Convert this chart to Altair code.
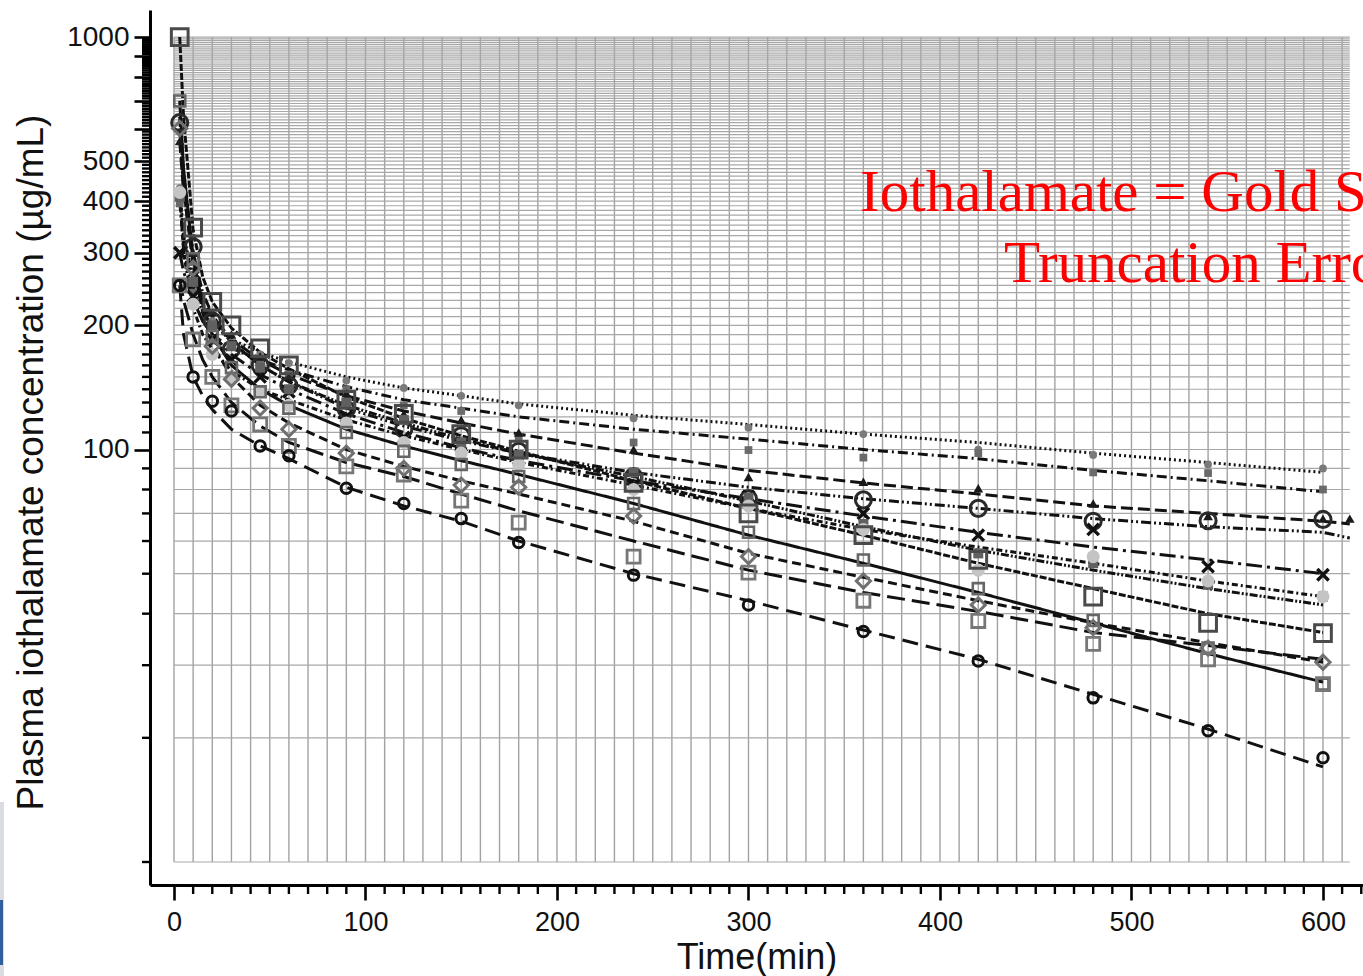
import altair as alt
import pandas as pd

# ---------------- data ----------------
LINE_T = [3, 5, 10, 15, 20, 30, 45, 60, 90, 120, 150, 180, 240, 300, 360, 420, 480, 540, 600]
OBS_T = [3, 10, 20, 30, 45, 60, 90, 120, 150, 180, 240, 300, 360, 420, 480, 540, 600]

fit_A = [430, 330, 250, 215, 200, 185, 172, 163, 150, 141, 135, 129, 121, 115, 109, 104, 98, 93, 88]
fit_B = [400, 310, 235, 205, 190, 176, 165, 156, 142, 132, 126, 120, 112, 106, 100, 95, 89, 84, 79]
fit_C = [560, 420, 290, 235, 210, 185, 165, 152, 135, 124, 116, 109, 98, 89, 83, 78, 73, 70, 67]
fit_D = [640, 460, 300, 240, 212, 182, 160, 146, 126, 114, 105, 98, 88, 81, 76, 72, 68, 65, 63]
fit_E = [300, 270, 230, 205, 190, 170, 152, 140, 122, 110, 101, 94, 84, 76, 69, 63, 58, 54, 50]
fit_F = [410, 330, 260, 225, 205, 182, 160, 146, 128, 116, 106, 98, 86, 75, 65, 57, 51, 46, 42]
fit_L = [420, 300, 220, 190, 175, 155, 140, 132, 118, 108, 100, 93, 82, 72, 64, 58, 53, 48, 44]
fit_G = [1000, 640, 340, 262, 228, 197, 172, 157, 134, 119, 108, 99, 84, 72, 62, 53, 46, 40, 36]
fit_I = [700, 480, 290, 225, 190, 160, 140, 128, 112, 102, 94, 87, 74, 62, 53, 45, 38, 32, 27.3]
fit_H = [600, 430, 280, 215, 180, 150, 128, 116, 100, 91, 84, 78, 67, 56, 49, 43, 38, 34, 30.5]
fit_J = [260, 230, 190, 165, 150, 130, 114, 104, 93, 86, 78, 71, 60, 51, 45, 40.5, 36, 33.5, 31]
fit_K = [250, 190, 150, 135, 125, 112, 102, 95, 81, 73, 67, 60, 50, 43, 36.5, 31, 25.5, 21, 17]

obs_A = [430, 255, 205, 182, 170, 162, 147, 141, 135, 128, 119, 113, 109, 100, 97, 92, 90]
obs_B = [395, 240, 185, 178, 162, 152, 140, 128, 124, 107, 104, 99.7, 95.6, 98, 88, 87.7, 80]
obs_C = [560, 300, 215, 190, 168, 150, 137, 122, 118, 110, 100, 85.8, 83.5, 80.6, 74, 69, 68]
obs_D = [620, 310, 205, 175, 160, 143, 125, 112, 108, 99, 86, 76, 75.5, 72, 67, 67.2, 67.7]
obs_E = [300, 235, 185, 165, 150, 138, 120, 107, 102, 95, 82, 77, 70, 62, 64, 52, 49.7]
obs_F = [410, 255, 200, 178, 158, 140, 130, 118, 104, 97, 88, 76.5, 66, 56, 53, 47, 44]
obs_L = [420, 225, 170, 150, 138, 128, 116, 104, 98, 92, 80, 73, 64, 51, 55, 48, 44]
obs_G = [1000, 345, 228, 200, 176, 160, 132, 122, 109, 100, 83, 70, 62, 54, 44, 38, 35.9]
obs_I = [700, 290, 188, 158, 138, 126, 110, 99, 92, 86, 74, 63, 54, 46, 38.5, 33, 27]
obs_H = [600, 275, 178, 148, 126, 112, 98, 90, 82, 81, 69, 55, 48, 42, 37, 33, 30.5]
obs_J = [250, 185, 150, 128, 115, 102, 91, 87, 75.2, 66.5, 55, 50.3, 43, 38.4, 33.8, 31, 27]
obs_K = [250, 150, 131, 124, 102, 96.6, 80.6, 74, 68, 59.5, 49.6, 42, 36.2, 30.7, 25, 20.8, 17.9]

# two fitted curves run a little past 600 min, one extra late sample
EXT_T = 614
ext_C = 66
ext_D = 61
late_obs_C = 68

Y_MAJOR = [100, 200, 300, 400, 500, 600, 700, 800, 900, 1000]
Y_LABELLED = [100, 200, 300, 400, 500, 1000]
X_MAJOR = [0, 100, 200, 300, 400, 500, 600]

NOTE = "Iothalamate = Gold Standard\nTruncation Error"
NOTE_T = 536.8
NOTE_V = 378.6

# ---------------- scales / axes ----------------
xs = alt.Scale(domain=[-12.53, 620.9], nice=False, zero=False)
ys = alt.Scale(type="log", domain=[8.795, 1163], nice=False)

FONT = "Liberation Sans"
x_axis = alt.Axis(values=X_MAJOR, format="d", title="Time(min)", grid=False,
                  domainColor="black", domainWidth=3, tickColor="black", tickWidth=2.6,
                  tickSize=15, labelFont=FONT, labelFontSize=27, labelColor="#111111",
                  labelPadding=9, titleFont=FONT, titleFontSize=36, titleFontWeight="normal",
                  titleColor="#111111", titlePadding=5)
lab_expr = "indexof([" + ",".join(str(v) for v in Y_LABELLED) + "], datum.value) >= 0 ? format(datum.value, 'd') : ''"
y_axis = alt.Axis(values=Y_MAJOR, labelExpr=lab_expr, title="Plasma iothalamate concentration (µg/mL)",
                  grid=False, domainColor="black", domainWidth=3, tickColor="black", tickWidth=2.6,
                  tickSize=16, labelFont=FONT, labelFontSize=28, labelColor="#111111", labelPadding=5,
                  titleFont=FONT, titleFontSize=37, titleFontWeight="normal", titleColor="#111111",
                  titleAngle=-90, titleX=-119, titleY=452, titleAlign="center", titleBaseline="middle")


def X(f="t"):
    return alt.X(f"{f}:Q", scale=xs, axis=x_axis)


def Y(f="v"):
    return alt.Y(f"{f}:Q", scale=ys, axis=y_axis)


layers = []

# ---------------- grid (inset rectangle) ----------------
vgrid = pd.DataFrame({"t": list(range(0, 611, 10))})
vgrid["v"] = 10
vgrid["v2"] = 1000
hvals = list(range(10, 100, 10)) + list(range(100, 1001, 10))
hgrid = pd.DataFrame({"v": hvals})
hgrid["t"] = 0
hgrid["t2"] = 614
layers.append(alt.Chart(vgrid).mark_rule(color="#a2a2a2", strokeWidth=1.4).encode(x=X(), y=Y(), y2="v2:Q"))
layers.append(alt.Chart(hgrid).mark_rule(color="#a8a8a8", strokeWidth=1.2).encode(y=Y(), x=X(), x2="t2:Q"))

# ---------------- subjects ----------------
subjects = [
    ("A", fit_A, obs_A, [2, 3], dict(shape="circle", filled=True, color="#7a7a7a", size=60)),
    ("B", fit_B, obs_B, [10, 4, 2, 4], dict(shape="square", filled=True, color="#6a6a6a", size=60)),
    ("C", fit_C, obs_C, [12, 5], dict(shape="triangle-up", filled=True, color="#1a1a1a", size=95)),
    ("D", fit_D, obs_D, [10, 3, 2, 3, 2, 3], dict(shape="circle", filled=False, color="#2a2a2a", size=260, strokeWidth=3)),
    ("E", fit_E, obs_E, [16, 5, 3, 5], dict(shape="M-1,-1L1,1M-1,1L1,-1", filled=False, color="#111111", size=130, strokeWidth=3.4)),
    ("F", fit_F, obs_F, [2, 2, 2, 2, 8, 2], dict(shape="square", filled=True, color="#606060", size=100)),
    ("L", fit_L, obs_L, [6, 3, 2, 3], dict(shape="circle", filled=True, color="#c4c4c4", size=170)),
    ("G", fit_G, obs_G, [7, 2], dict(shape="square", filled=False, color="#4a4a4a", size=280, strokeWidth=3)),
    ("I", fit_I, obs_I, [1, 0], dict(shape="square", filled=False, color="#666666", size=120, strokeWidth=2.6)),
    ("H", fit_H, obs_H, [9, 5], dict(shape="diamond", filled=False, color="#707070", size=200, strokeWidth=3)),
    ("J", fit_J, obs_J, [18, 7], dict(shape="square", filled=False, color="#777777", size=170, strokeWidth=2.8)),
    ("K", fit_K, obs_K, [16, 8], dict(shape="circle", filled=False, color="#111111", size=110, strokeWidth=3)),
]

ext = {"C": ext_C, "D": ext_D}
for name, fit, obs, dash, mk in subjects:
    ts = list(LINE_T)
    vs = list(fit)
    if name in ext:
        ts.append(EXT_T)
        vs.append(ext[name])
    ldf = pd.DataFrame({"t": ts, "v": vs})
    layers.append(alt.Chart(ldf).mark_line(color="#111111", strokeWidth=3, strokeDash=dash)
                  .encode(x=X(), y=Y()))

for name, fit, obs, dash, mk in subjects:
    ts = list(OBS_T)
    vs = list(obs)
    if name == "C":
        ts.append(EXT_T)
        vs.append(late_obs_C)
    odf = pd.DataFrame({"t": ts, "v": vs})
    kw = dict(shape=mk["shape"], filled=mk["filled"], color=mk["color"], size=mk["size"], opacity=1)
    if not mk["filled"]:
        kw["strokeWidth"] = mk.get("strokeWidth", 2)
    layers.append(alt.Chart(odf).mark_point(**kw).encode(x=X(), y=Y()))

# ---------------- minor ticks ----------------
ymin = pd.DataFrame({"v": [v for v in hvals if v not in Y_MAJOR]})
layers.append(alt.Chart(ymin).mark_rule(color="black", strokeWidth=2.4)
              .encode(y=Y(), x=alt.value(-8), x2=alt.value(0)))
xmin = pd.DataFrame({"t": [t for t in range(10, 621, 10) if t not in X_MAJOR]})
layers.append(alt.Chart(xmin).mark_rule(color="black", strokeWidth=2.4)
              .encode(x=X(), y=alt.value(875), y2=alt.value(884)))

# ---------------- red note ----------------
note = pd.DataFrame({"t": [NOTE_T], "v": [NOTE_V], "label": [NOTE]})
layers.append(alt.Chart(note).mark_text(font="Liberation Serif", fontSize=59, color="#ff0000",
                                       align="center", baseline="alphabetic", lineBreak="\n",
                                       lineHeight=71)
              .encode(x=X(), y=Y(), text="label:N"))

# ---------------- scan edge artefact at the bottom-left ----------------
edge = pd.DataFrame({"k": ["strip"]})
layers.append(alt.Chart(edge).mark_rect(color="#d9dde2")
              .encode(x=alt.value(-150), x2=alt.value(-146), y=alt.value(792), y2=alt.value(966)))
layers.append(alt.Chart(edge).mark_rect(color="#2f5f9f")
              .encode(x=alt.value(-150), x2=alt.value(-147), y=alt.value(890), y2=alt.value(955)))

chart = alt.layer(*layers).properties(
    width=1213, height=875,
    padding={"left": 150, "top": 10, "right": 0, "bottom": 91},
    autosize=alt.AutoSizeParams(type="none"),
    background="white",
).configure_view(stroke=None)

chart.save("out.html", embed_options={"renderer": "svg", "actions": False})
